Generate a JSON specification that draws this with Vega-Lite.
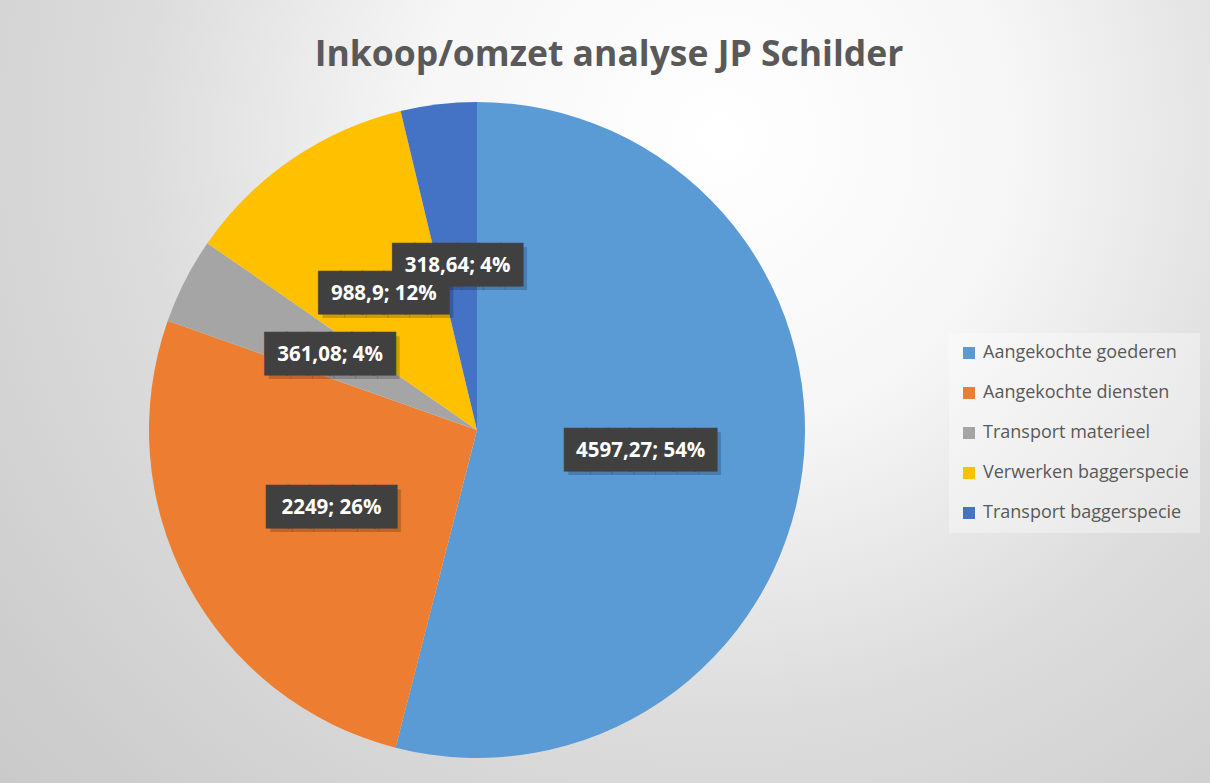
{
  "$schema": "https://vega.github.io/schema/vega-lite/v6.json",
  "autosize": {"type": "none"},
  "width": 1466,
  "height": 860,
  "padding": {"left": -256, "top": 0, "right": 0, "bottom": -77},
  "background": "#d8d8d8",
  "view": {
    "stroke": null,
    "fill": {
      "gradient": "radial",
      "x1": 0.666, "y1": 0.30, "r1": 0,
      "x2": 0.666, "y2": 0.30, "r2": 0.75,
      "stops": [
        {"offset": 0, "color": "#ffffff"},
        {"offset": 0.27, "color": "#f6f6f6"},
        {"offset": 0.53, "color": "#dcdcdc"},
        {"offset": 0.8, "color": "#cdcdcd"},
        {"offset": 1, "color": "#c6c6c6"}
      ]
    }
  },
  "title": {
    "text": "Inkoop/omzet analyse JP Schilder",
    "font": "Open Sans",
    "fontSize": 35.5,
    "fontWeight": "bold",
    "color": "#595959",
    "anchor": "middle",
    "frame": "group",
    "baseline": "alphabetic",
    "offset": 12,
    "dy": 113,
    "dx": 132
  },
  "data": {
    "values": [
      {"categorie": "Aangekochte goederen", "waarde": 4597.27, "label": "4597,27; 54%", "volgorde": 1},
      {"categorie": "Aangekochte diensten", "waarde": 2249, "label": "2249; 26%", "volgorde": 2},
      {"categorie": "Transport materieel", "waarde": 361.08, "label": "361,08; 4%", "volgorde": 3},
      {"categorie": "Verwerken baggerspecie", "waarde": 988.9, "label": "988,9; 12%", "volgorde": 4},
      {"categorie": "Transport baggerspecie", "waarde": 318.64, "label": "318,64; 4%", "volgorde": 5}
    ]
  },
  "transform": [
    {"calculate": "pad('', length(datum.label) >= 12 ? 7 : 6, '█')", "as": "box"}
  ],
  "encoding": {
    "theta": {"field": "waarde", "type": "quantitative", "stack": true},
    "order": {"field": "volgorde", "type": "quantitative"}
  },
  "layer": [
    {
      "mark": {"type": "arc", "outerRadius": 328, "stroke": null},
      "encoding": {
        "color": {
          "field": "categorie",
          "type": "nominal",
          "sort": {"field": "volgorde"},
          "scale": {
            "domain": ["Aangekochte goederen", "Aangekochte diensten", "Transport materieel", "Verwerken baggerspecie", "Transport baggerspecie"],
            "range": ["#5B9BD5", "#ED7D31", "#A5A5A5", "#FFC000", "#4472C4"]
          },
          "legend": {
            "title": null,
            "orient": "none",
            "legendX": 1205,
            "legendY": 333,
            "symbolType": "square",
            "symbolSize": 144,
            "symbolStrokeWidth": 0,
            "labelFont": "Open Sans",
            "labelFontSize": 18,
            "labelColor": "#595959",
            "labelOffset": 5,
            "labelLimit": 300,
            "rowPadding": 22,
            "padding": 11,
            "fillColor": "rgba(255,255,255,0.35)"
          }
        }
      }
    },
    {
      "mark": {"type": "text", "radius": 165, "font": "DejaVu Sans Mono", "fontSize": 36, "baseline": "middle", "align": "center", "color": "rgba(0,0,0,0.2)", "dx": 4, "dy": 4},
      "encoding": {"text": {"field": "box"}}
    },
    {
      "mark": {"type": "text", "radius": 165, "font": "DejaVu Sans Mono", "fontSize": 36, "baseline": "middle", "align": "center", "color": "#404040", "stroke": "#404040", "strokeWidth": 1},
      "encoding": {"text": {"field": "box"}}
    },
    {
      "mark": {"type": "text", "radius": 165, "font": "Open Sans", "fontSize": 20.5, "fontWeight": "bold", "baseline": "middle", "align": "center", "color": "#ffffff"},
      "encoding": {"text": {"field": "label"}}
    }
  ]
}
